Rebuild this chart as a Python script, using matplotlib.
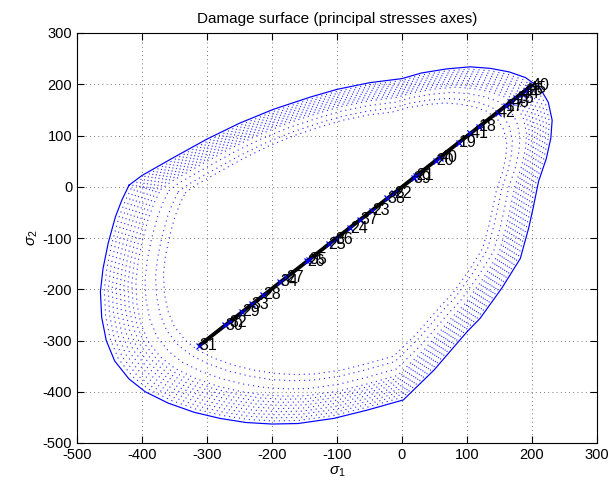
import matplotlib
matplotlib.use("Agg")
import numpy as np
import matplotlib.pyplot as plt

plt.rcParams['font.family'] = ['Liberation Sans', 'DejaVu Sans']
plt.rcParams['mathtext.fontset'] = 'custom'
plt.rcParams['mathtext.rm'] = 'Liberation Sans'
plt.rcParams['mathtext.it'] = 'Liberation Sans:italic'
plt.rcParams['axes.unicode_minus'] = False

# outer damage surface (solid)
surf_s1 = [-420, -400, -350, -300, -250, -198, -141, -100, -50, 0, 30, 69, 105,
           136, 165, 190, 212, 225, 231, 229, 222, 210, 202, 195, 182, 154,
           120, 100, 49, 2, -54, -105, -160, -200, -240, -280, -320, -360,
           -395, -420, -442, -455, -462, -464, -460, -452, -441, -431, -420]
surf_s2 = [3, 22, 58, 93, 124, 151, 175, 190, 203, 211, 222, 230, 234,
           231, 224, 213, 193, 165, 130, 95, 55, 10, -40, -80, -140, -197,
           -257, -283, -358, -416, -436, -452, -462, -463, -460, -452, -440,
           -422, -400, -375, -340, -300, -255, -205, -160, -110, -59, -26, 3]

# earlier surfaces (dotted): scale factors about a centre point
shrink_centre = (-60, -60)
shrink_factors = [0.985, 0.97, 0.955, 0.94, 0.925, 0.91, 0.895, 0.88, 0.865,
                  0.83, 0.79, 0.76]

# loading path points and their step numbers
path_lbl = ['31', '30', '32', '29', '33', '28', '34', '27', '26', '35', '25',
            '36', '24', '37', '23', '38', '22', '39', '21', '20', '40', '19',
            '41', '18', '42', '17', '43', '16', '44', '15', '45', '40']
path_s1 = [-312, -272, -265, -246, -231, -214, -187, -178, -146, -143, -113,
           -102, -80, -64, -46, -23, -12, 18, 22, 52, 58, 87, 105, 118, 147,
           160, 168, 176, 184, 190, 195, 200]
path_s2 = [-310, -270, -264, -244, -229, -211, -185, -177, -145, -142, -112,
           -102, -81, -64, -47, -22, -13, 17, 21, 51, 57, 86, 104, 117, 144,
           157, 165, 173, 181, 187, 192, 198]

fig = plt.figure(figsize=(6.12, 4.92), dpi=100)
ax = fig.add_axes([77/612, 1-443/492, 520/612, 410/492])

sx = np.array(surf_s1, float)
sy = np.array(surf_s2, float)
cx, cy = shrink_centre
for f in shrink_factors:
    ax.plot(cx + f*(sx - cx), cy + f*(sy - cy), color='b', lw=0.8,
            linestyle=(0, (1, 3.5)), alpha=0.85)
ax.plot(sx, sy, color='b', lw=0.85)

ax.plot([path_s1[0], path_s1[-1]], [path_s2[0], path_s2[-1]], color='k', lw=2.8,
        solid_capstyle='butt', zorder=3)
ax.plot(path_s1, path_s2, 'x', color='b', ms=5, mew=0.9, zorder=4)
for l, x, y in zip(path_lbl, path_s1, path_s2):
    ax.text(x, y, l, ha='left', va='center', fontsize=11.5, zorder=5)

ax.set_xlim(-500, 300)
ax.set_ylim(-500, 300)
ax.set_xticks(np.arange(-500, 301, 100))
ax.set_yticks(np.arange(-500, 301, 100))
ax.grid(True, color='k', linestyle=(0, (1, 4)), lw=0.6, alpha=0.7)
ax.tick_params(direction='in', top=True, right=True, length=5, labelsize=10.5)
for s in ax.spines.values():
    s.set_linewidth(0.8)

ax.set_title('Damage surface (principal stresses axes)', fontsize=11, pad=7)
ax.set_xlabel(r'$\sigma_1$', fontsize=11, labelpad=2)
ax.set_ylabel(r'$\sigma_2$', fontsize=11, labelpad=2)

fig.savefig('out.png', dpi=100)
